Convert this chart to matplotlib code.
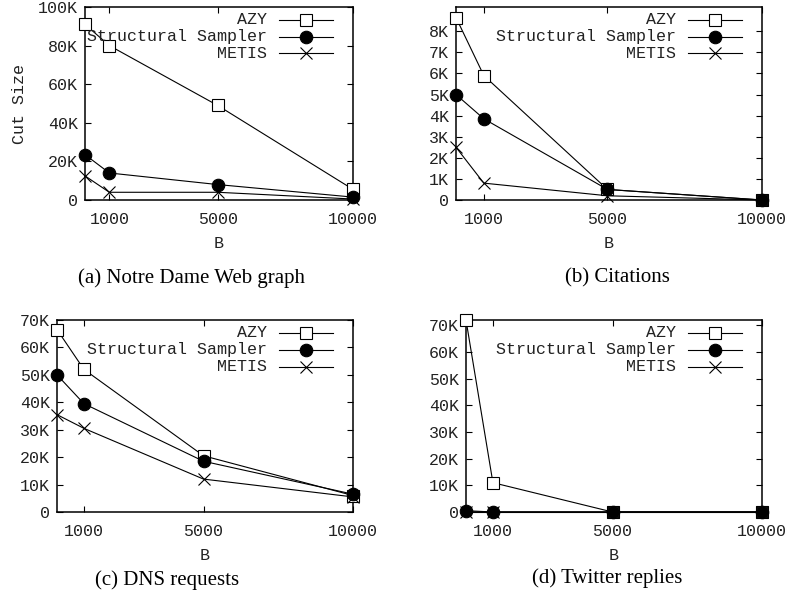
import matplotlib
matplotlib.use("Agg")
import matplotlib.pyplot as plt
from matplotlib.lines import Line2D
from matplotlib.ticker import FuncFormatter

# block sizes B
b_vals = [100, 1000, 5000, 10000]
x_ticks = [1000, 5000, 10000]
series_names = ["AZY", "Structural Sampler", "METIS"]

# (a) Notre Dame Web graph
nd_azy = [91000, 80000, 49000, 5500]
nd_ss = [23500, 14000, 8000, 1500]
nd_metis = [12500, 4000, 4000, 500]

# (b) Citations
cit_azy = [8650, 5900, 500, 0]
cit_ss = [5000, 3850, 500, 0]
cit_metis = [2500, 800, 200, 0]

# (c) DNS requests
dns_azy = [66500, 52000, 20500, 6000]
dns_ss = [50000, 39500, 18500, 6500]
dns_metis = [35500, 30500, 12000, 5500]

# (d) Twitter replies
tw_azy = [72000, 11000, 0, 0]
tw_ss = [500, 0, 0, 0]
tw_metis = [0, 0, 0, 0]

captions = ["(a) Notre Dame Web graph", "(b) Citations", "(c) DNS requests", "(d) Twitter replies"]

mono = "Liberation Mono"
serif = "Liberation Serif"
txt_col = "#222222"

styles = [
    dict(marker="s", markersize=9.3, markerfacecolor="white", markeredgecolor="black", markeredgewidth=0.8),
    dict(marker="o", markersize=9, markerfacecolor="black", markeredgecolor="black", markeredgewidth=0.8),
    dict(marker="x", markersize=9, markeredgecolor="black", markeredgewidth=0.8),
]

W, H = 793, 607
fig = plt.figure(figsize=(W / 100, H / 100), dpi=100)


def px_axes(l, t, r, b):
    return fig.add_axes([l / W, 1 - b / H, (r - l) / W, (b - t) / H])


axes = [
    px_axes(85, 7, 353, 200),
    px_axes(456, 7, 762, 200),
    px_axes(57, 320, 353, 512),
    px_axes(466, 320, 762, 512),
]
data = [
    (nd_azy, nd_ss, nd_metis),
    (cit_azy, cit_ss, cit_metis),
    (dns_azy, dns_ss, dns_metis),
    (tw_azy, tw_ss, tw_metis),
]
ylims = [(0, 100000), (0, 9150), (0, 70000), (0, 72000)]
ystep = [20000, 1000, 10000, 10000]
ymax_tick = [100000, 8000, 70000, 70000]

kfmt = FuncFormatter(lambda v, p: "0" if v == 0 else "%dK" % round(v / 1000))

for i, ax in enumerate(axes):
    for ys, name, st in zip(data[i], series_names, styles):
        ax.plot(b_vals, ys, color="black", lw=0.8, clip_on=False, zorder=3, **st)
    ax.set_xlim(100, 10000)
    ax.set_ylim(*ylims[i])
    ax.set_xticks(x_ticks)
    ax.set_yticks(list(range(0, ymax_tick[i] + 1, ystep[i])))
    ax.yaxis.set_major_formatter(kfmt)
    ax.tick_params(direction="in", length=4, width=0.8, top=True, right=True,
                   labelsize=12, labelcolor=txt_col)
    ax.tick_params(axis="x", pad=9)
    ax.tick_params(axis="y", pad=5)
    for lab in ax.get_xticklabels() + ax.get_yticklabels():
        lab.set_fontfamily(mono)
    for s in ax.spines.values():
        s.set_linewidth(1.1)
    ax.set_xlabel("B", fontfamily=mono, fontsize=12, color=txt_col, labelpad=6)

    # gnuplot-style key, right-justified text with sample line after it
    bb = ax.get_position()
    wpx = bb.width * W
    hpx = bb.height * H
    for k, (name, st) in enumerate(zip(series_names, styles)):
        yf = 1 - (12.5 + 17 * k) / hpx
        ax.text(1 - 86 / wpx, yf, name, transform=ax.transAxes, ha="right", va="center",
                fontfamily=mono, fontsize=12, color=txt_col)
        ln = Line2D([1 - 74 / wpx, 1 - 47 / wpx, 1 - 20 / wpx], [yf, yf, yf],
                    transform=ax.transAxes, color="black", lw=0.8, markevery=[1], **st)
        ax.add_line(ln)

axes[0].set_ylabel("Cut Size", fontfamily=mono, fontsize=12, color=txt_col, labelpad=8)

cap_pos = [(192, 278), (617, 278), (167, 580), (607, 578)]
for cap, (cx, cy) in zip(captions, cap_pos):
    fig.text(cx / W, 1 - cy / H, cap, ha="center", va="center", fontfamily=serif, fontsize=15)

fig.savefig("out.png", dpi=100)
